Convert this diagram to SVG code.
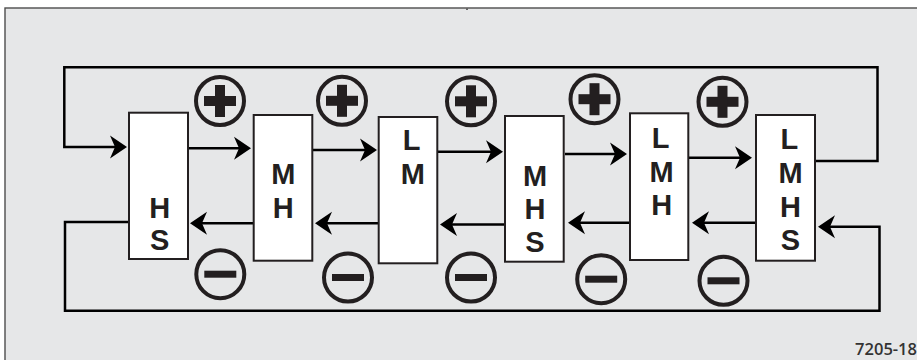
<svg xmlns="http://www.w3.org/2000/svg" width="917" height="360" viewBox="0 0 917 360">
<defs>
<style>
.bg{fill:#e6e7e8;stroke:#4d4d4d;stroke-width:1.4}
.box{fill:#ffffff;stroke:#231f20;stroke-width:2}
.lbl{font-family:"Liberation Sans",Arial,sans-serif;font-weight:bold;font-size:29px;fill:#231f20;text-anchor:middle}
.ring{fill:none;stroke:#231f20;stroke-width:4}
.sign{fill:#231f20}
.wire{fill:none;stroke:#000000;stroke-width:2.5;marker-end:url(#ah)}
.fig{font-family:"Open Sans","Liberation Sans",sans-serif;font-weight:600;font-size:16.5px;fill:#333333;text-anchor:end}
</style>
<marker id="ah" markerUnits="userSpaceOnUse" markerWidth="20" markerHeight="26" viewBox="0 -13 20 26" refX="7" refY="0" orient="auto">
<path d="M17,0 L0,-11.5 L5,0 L0,11.5 Z" fill="#000000"/>
</marker>
<g id="plus"><circle class="ring" cx="0" cy="0" r="24"/><rect class="sign" x="-16" y="-5" width="32" height="10"/><rect class="sign" x="-5" y="-16" width="10" height="32"/></g>
<g id="minus"><circle class="ring" cx="0" cy="0" r="24"/><rect class="sign" x="-16" y="-3.5" width="32" height="7"/></g>
</defs>
<rect class="bg" x="5" y="8" width="920" height="360"/>
<rect x="466" y="8" width="2" height="2" fill="#666666"/>
<g id="connectors">
<path class="wire" d="M816,161 H877.5 V67.3 H64.3 V147 H117"/>
<path class="wire" d="M189,148.3 H241"/>
<path class="wire" d="M313,150 H367"/>
<path class="wire" d="M438,151.7 H493"/>
<path class="wire" d="M565,154 H617"/>
<path class="wire" d="M689,157.7 H742"/>
<path class="wire" d="M253,223.3 H200"/>
<path class="wire" d="M378,223.3 H325"/>
<path class="wire" d="M504,224.5 H450"/>
<path class="wire" d="M629,222.7 H578"/>
<path class="wire" d="M755,222.7 H702"/>
<path class="wire" d="M128,222 H65 V310.7 H879.5 V226.7 H828"/>
</g>
<g id="box1"><rect class="box" x="129" y="112.7" width="59" height="146.3"/><text class="lbl" x="159.7" y="217.7">H</text><text class="lbl" x="159.7" y="250">S</text></g>
<g id="box2"><rect class="box" x="253.7" y="115" width="58.6" height="145.7"/><text class="lbl" x="283.3" y="184.3">M</text><text class="lbl" x="283.3" y="217.7">H</text></g>
<g id="box3"><rect class="box" x="378.7" y="117" width="58.6" height="146.3"/><text class="lbl" x="411.5" y="150">L</text><text class="lbl" x="412.8" y="184.3">M</text></g>
<g id="box4"><rect class="box" x="505" y="116" width="58.7" height="145.7"/><text class="lbl" x="535" y="186">M</text><text class="lbl" x="535" y="219.3">H</text><text class="lbl" x="535" y="251.5">S</text></g>
<g id="box5"><rect class="box" x="630" y="113.3" width="58.3" height="146.7"/><text class="lbl" x="660.5" y="148.3">L</text><text class="lbl" x="661.7" y="181.7">M</text><text class="lbl" x="661.7" y="215">H</text></g>
<g id="box6"><rect class="box" x="756" y="115" width="59" height="145.7"/><text class="lbl" x="789.3" y="149.3">L</text><text class="lbl" x="790.5" y="183.3">M</text><text class="lbl" x="790.5" y="216.7">H</text><text class="lbl" x="790.5" y="249.5">S</text></g>
<g id="plus1"><use href="#plus" x="220" y="101"/></g>
<g id="plus2"><use href="#plus" x="342" y="100.8"/></g>
<g id="plus3"><use href="#plus" x="471" y="101.3"/></g>
<g id="plus4"><use href="#plus" x="594.5" y="99.2"/></g>
<g id="plus5"><use href="#plus" x="722.5" y="101.8"/></g>
<g id="minus1"><use href="#minus" x="220.3" y="274.2"/></g>
<g id="minus2"><use href="#minus" x="348" y="277.5"/></g>
<g id="minus3"><use href="#minus" x="471" y="277.5"/></g>
<g id="minus4"><use href="#minus" x="601.2" y="279.2"/></g>
<g id="minus5"><use href="#minus" x="723.5" y="280.8"/></g>
<text class="fig" x="917" y="355">7205-18</text>
</svg>
